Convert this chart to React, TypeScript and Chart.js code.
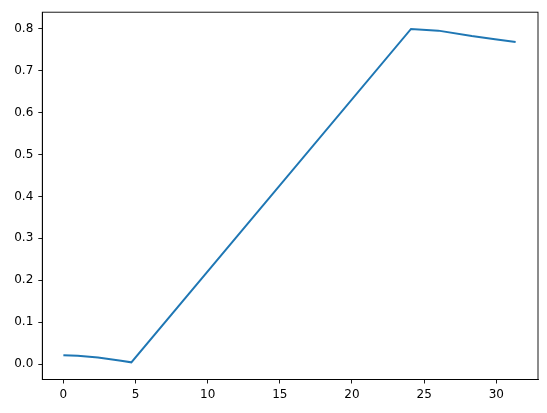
import React, { useEffect, useRef } from "react";
import { Chart, registerables } from "chart.js";

Chart.register(...registerables);

const xValues = [0, 1.0, 2.4, 4.0, 4.71, 24.09, 25.98, 28.3, 29.91, 31.34];
const yValues = [0.021, 0.0195, 0.0155, 0.0075, 0.004, 0.8, 0.796, 0.783, 0.7755, 0.769];
const xTicks = [0, 5, 10, 15, 20, 25, 30];
const yTicks = [0, 0.1, 0.2, 0.3, 0.4, 0.5, 0.6, 0.7, 0.8];

const frame = {
  id: "frame",
  afterDatasetsDraw(chart: any) {
    const { ctx, chartArea } = chart;
    ctx.save();
    ctx.strokeStyle = "#000";
    ctx.lineWidth = 0.9;
    ctx.strokeRect(chartArea.left, chartArea.top, chartArea.right - chartArea.left, chartArea.bottom - chartArea.top);
    ctx.restore();
  },
};

export default function App() {
  const ref = useRef<HTMLCanvasElement>(null);
  useEffect(() => {
    if (!ref.current) return;
    const font = { family: "DejaVu Sans", size: 12 };
    const chart = new Chart(ref.current, {
      type: "line",
      data: {
        datasets: [
          {
            data: xValues.map((x, i) => ({ x, y: yValues[i] })),
            borderColor: "#1f77b4",
            borderWidth: 2,
            pointRadius: 0,
            tension: 0,
            fill: false,
          },
        ],
      },
      options: {
        responsive: false,
        animation: false,
        layout: { padding: { top: 10.7, right: 9, left: 0, bottom: 0 } },
        plugins: { legend: { display: false }, tooltip: { enabled: false } },
        scales: {
          x: {
            type: "linear",
            min: -1.46,
            max: 32.89,
            afterBuildTicks: (s: any) => {
              s.ticks = xTicks.map((v) => ({ value: v }));
            },
            afterFit: (s: any) => {
              s.height = 33.5;
            },
            grid: { drawOnChartArea: false, drawTicks: true, tickLength: 4, color: "#000", lineWidth: 0.9 },
            border: { display: true, color: "#000", width: 0.9 },
            ticks: { color: "#000", font, padding: 4, maxRotation: 0, callback: (v: any) => String(v) },
          },
          y: {
            type: "linear",
            min: -0.037,
            max: 0.84,
            afterBuildTicks: (s: any) => {
              s.ticks = yTicks.map((v) => ({ value: v }));
            },
            afterFit: (s: any) => {
              s.width = 42.3;
            },
            grid: { drawOnChartArea: false, drawTicks: true, tickLength: 4, color: "#000", lineWidth: 0.9 },
            border: { display: true, color: "#000", width: 0.9 },
            ticks: { color: "#000", font, padding: 5, callback: (v: any) => Number(v).toFixed(1) },
          },
        },
      },
      plugins: [frame],
    });
    return () => chart.destroy();
  }, []);
  return (
    <div style={{ position: "absolute", left: 0, top: 0, width: 547, height: 413, background: "#fff" }}>
      <canvas ref={ref} width={547} height={413} style={{ width: 547, height: 413 }} />
    </div>
  );
}
